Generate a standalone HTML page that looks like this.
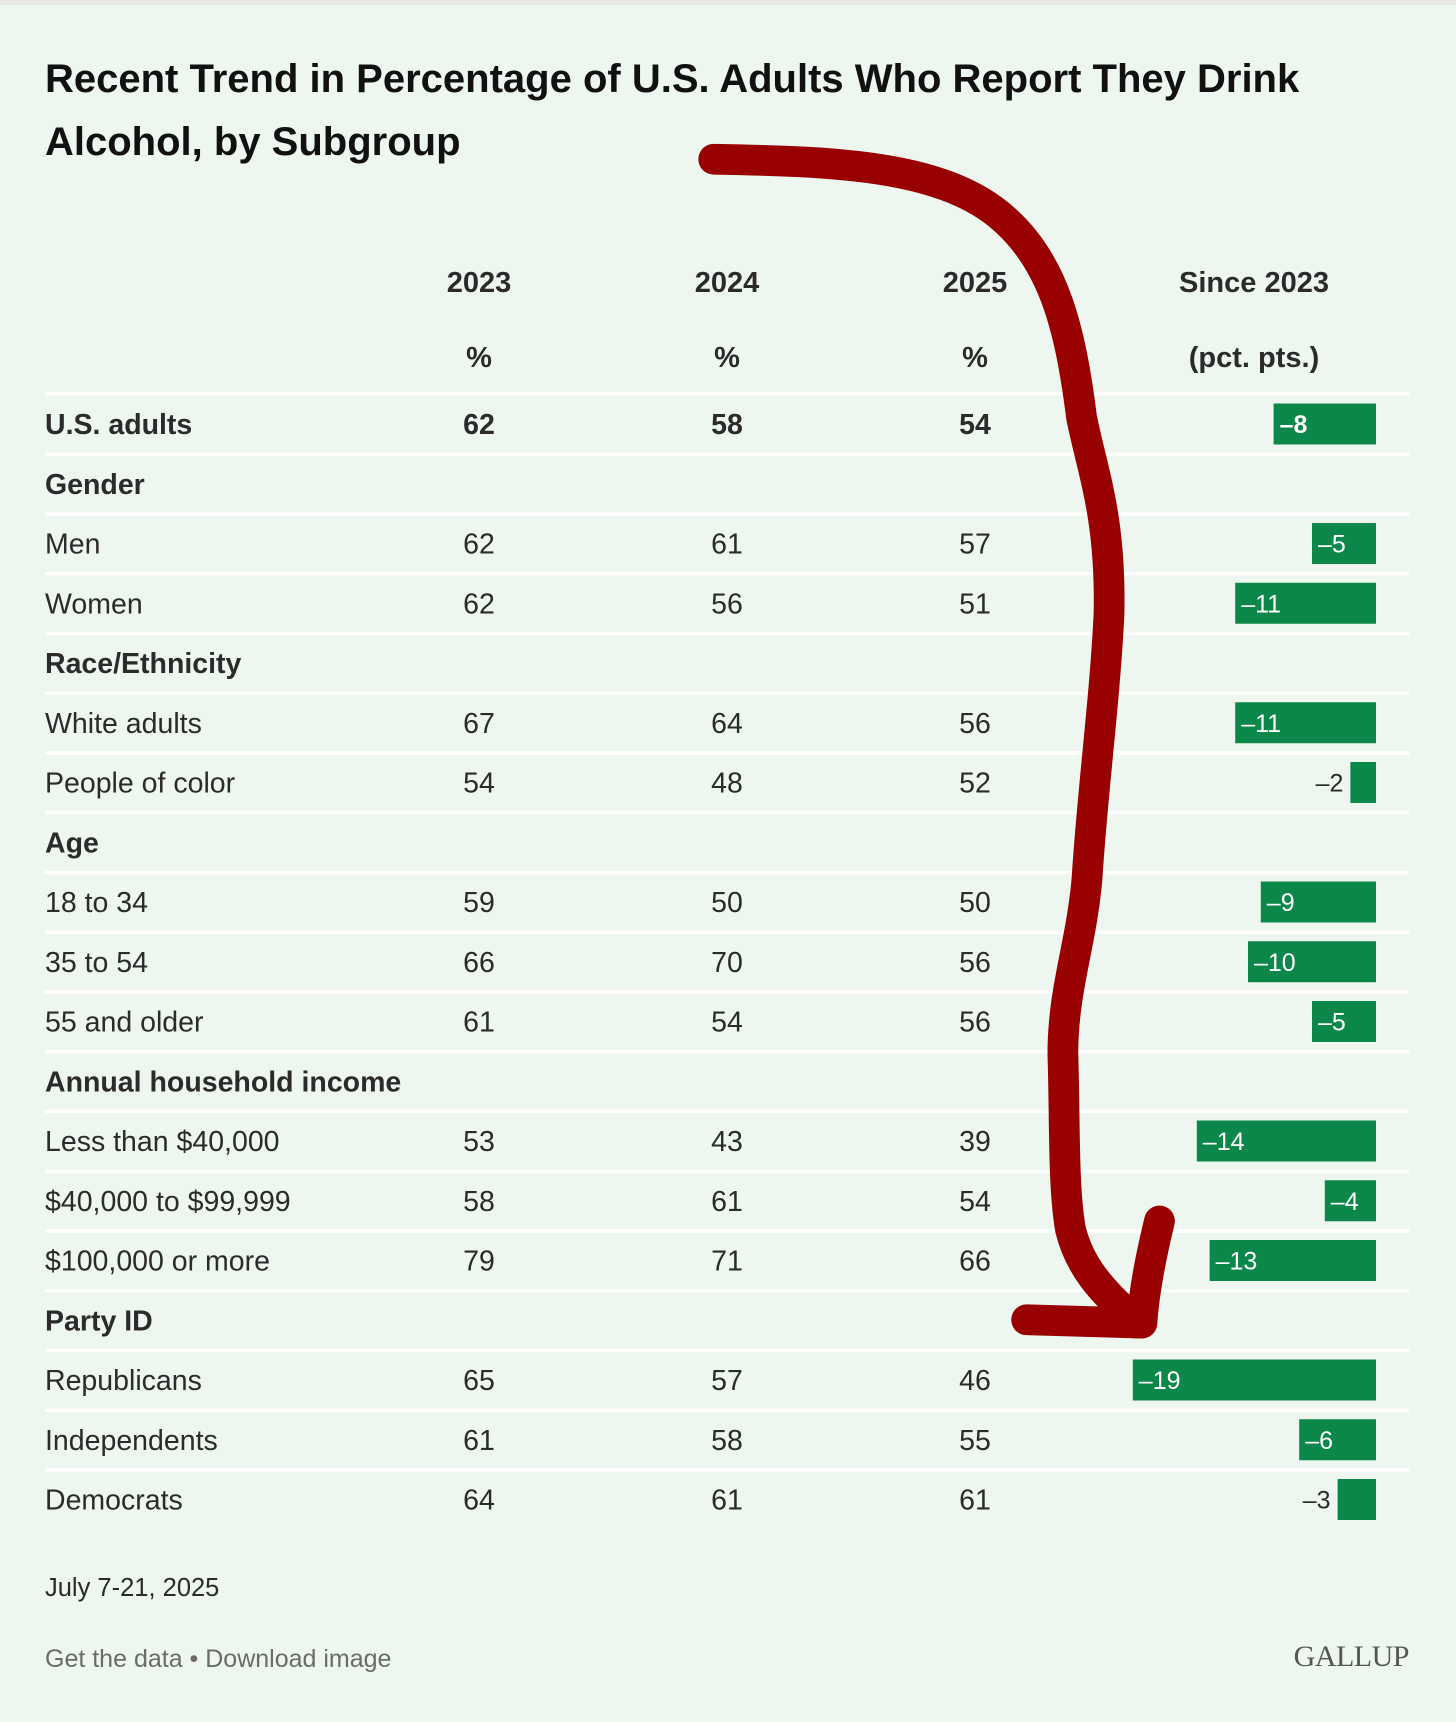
<!DOCTYPE html>
<html><head><meta charset="utf-8"><style>
html,body{margin:0;padding:0}
body{width:1456px;height:1722px;background:#edf6ef;position:relative;overflow:hidden;font-family:"Liberation Sans",sans-serif;color:#2b2b2b}
.topbar{position:absolute;left:0;top:0;width:1456px;height:5px;background:#e6e8e6}
.title{position:absolute;left:45px;top:48px;width:1345px;font-size:40px;font-weight:bold;line-height:63px;color:#111;letter-spacing:0px}
svg{position:absolute;left:0;top:0}
</style></head><body>
<div class="topbar"></div>
<div class="title">Recent Trend in Percentage of U.S. Adults Who Report They Drink<br>Alcohol, by Subgroup</div>
<svg id="chart" width="1456" height="1722"></svg>
<script>
const labels=["U.S. adults","Gender","Men","Women","Race/Ethnicity","White adults","People of color","Age","18 to 34","35 to 54","55 and older","Annual household income","Less than $40,000","$40,000 to $99,999","$100,000 or more","Party ID","Republicans","Independents","Democrats"];
const isHeader=[1,1,0,0,1,0,0,1,0,0,0,1,0,0,0,1,0,0,0];
const v2023=[62,null,62,62,null,67,54,null,59,66,61,null,53,58,79,null,65,61,64];
const v2024=[58,null,61,56,null,64,48,null,50,70,54,null,43,61,71,null,57,58,61];
const v2025=[54,null,57,51,null,56,52,null,50,56,56,null,39,54,66,null,46,55,61];
const change=[-8,null,-5,-11,null,-11,-2,null,-9,-10,-5,null,-14,-4,-13,null,-19,-6,-3];
const colHeads=["2023","2024","2025","Since 2023"];
const colSubs=["%","%","%","(pct. pts.)"];

const svg=document.getElementById('chart');
const NS='http://www.w3.org/2000/svg';
const rowY=i=>424+i*59.75;
const colX=[479,727,975,1254];
const barRight=1376, pxPerPt=12.8;
const barX=v=>barRight-Math.abs(v)*pxPerPt;
function mk(tag,attrs,txt){const e=document.createElementNS(NS,tag);for(const k in attrs)e.setAttribute(k,attrs[k]);if(txt!=null)e.textContent=txt;svg.appendChild(e);return e;}

colHeads.forEach((h,j)=>{
  const t=mk('text',{x:colX[j],y:292,'text-anchor':'middle','font-size':29,'font-weight':'bold',fill:'#2b2b2b'},h);
  
  
  const s=mk('text',{x:colX[j],y:367,'text-anchor':'middle','font-size':29,'font-weight':'bold',fill:'#2b2b2b'},colSubs[j]);
  
  
});
const hl=mk('rect',{x:45,y:392,width:1364,height:3.5,fill:'#ffffff'});



labels.forEach((lab,i)=>{
  const y=rowY(i);
  const bold=(i===0||isHeader[i]);
  const t=mk('text',{x:45,y:y+10,'font-size':28.5,'font-weight':bold?'bold':'normal',fill:'#2b2b2b'},lab);
  
  
  if(i<labels.length-1){
    const l=mk('rect',{x:45,y:y+28.5,width:1364,height:3.5,fill:'#ffffff'});
    
    
  }
  [v2023,v2024,v2025].forEach((arr,j)=>{
    if(arr[i]==null)return;
    const c=mk('text',{x:colX[j],y:y+10,'text-anchor':'middle','font-size':28.5,'font-weight':i===0?'bold':'normal',fill:'#2b2b2b'},String(arr[i]));
    
    
  });
  if(change[i]!=null){
    const v=change[i];
    const bx=barX(v);
    const b=mk('rect',{x:bx,y:y-20.5,width:barRight-bx,height:41,fill:'#0b874a'});
    
    
    const txt='\u2013'+Math.abs(v);
    const inside=Math.abs(v)>=4;
    const lt=mk('text',{x:inside?bx+6:bx-7,y:y+9,'text-anchor':inside?'start':'end','font-size':25,'font-weight':i===0?'bold':'normal',fill:inside?'#ffffff':'#2b2b2b'},txt);
    
    
  }
});

const d=mk('text',{x:45,y:1596,'font-size':25.5,fill:'#2b2b2b'},'July 7-21, 2025');


const f=mk('text',{x:45,y:1667,'font-size':25,fill:'#6b6b6b'},'Get the data \u2022 Download image');


const g=mk('text',{x:1409,y:1666,'text-anchor':'end','font-size':30,'font-family':'Liberation Serif, serif',fill:'#555',style:'letter-spacing:-0.5px'},'GALLUP');



const arrow=mk('g',{transform:'scale(1.098)',fill:'none',stroke:'#990000','stroke-width':28,'stroke-linecap':'round','stroke-linejoin':'round'});


const p1=document.createElementNS(NS,'path');
p1.setAttribute('d','M650 145 C760 147 860 150 915 200 C960 240 975 300 985 380 C995 430 1012 470 1010 560 C1006 640 995 720 990 800 C985 860 968 900 968 960 C970 1020 968 1080 975 1120 C985 1160 1010 1180 1035 1205');
arrow.appendChild(p1);
const p2=document.createElementNS(NS,'path');
p2.setAttribute('d','M1056 1112 C1048 1145 1042 1175 1040 1205 L935 1202');
arrow.appendChild(p2);
svg.appendChild(arrow);
</script>
</body></html>
